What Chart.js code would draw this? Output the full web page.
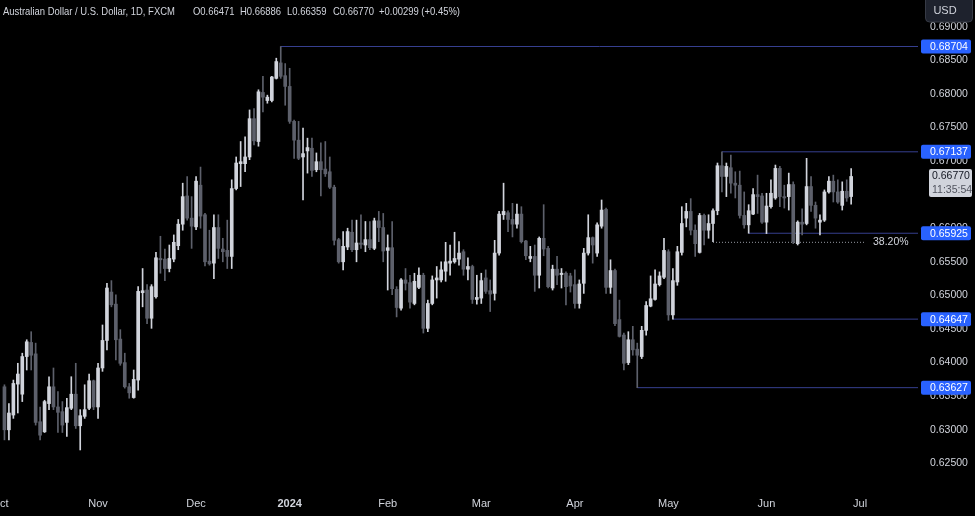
<!DOCTYPE html>
<html>
<head>
<meta charset="utf-8">
<script src="https://cdn.jsdelivr.net/npm/chart.js@4.4.0/dist/chart.umd.min.js"></script>
<style>
  html, body { margin: 0; padding: 0; background: #000; }
  canvas { display: block; }
</style>
</head>
<body>
<canvas id="chart" width="975" height="516"></canvas>
<script>
// month ticks on the time axis and how many daily bars each month spans
const monthNames = ["Oct", "Nov", "Dec", "2024", "Feb", "Mar", "Apr", "May", "Jun", "Jul"];
const monthBars = [22, 22, 21, 22, 21, 21, 21, 22, 21, 14];
const firstBar = 1; // first candle sits on the 2nd slot, the 1st one is off screen

// AUD/USD daily OHLC
const opens = [
  0.6364, 0.6300, 0.6322, 0.6368, 0.6353, 0.6409, 0.6430, 0.6413, 0.6312, 0.6297,
  0.6339, 0.6364, 0.6334, 0.6327, 0.6311, 0.6332, 0.6353, 0.6306, 0.6320, 0.6332,
  0.6373, 0.6334, 0.6392, 0.6433, 0.6505, 0.6487, 0.6435, 0.6400, 0.6364, 0.6348,
  0.6374, 0.6504, 0.6508, 0.6466, 0.6498, 0.6555, 0.6554, 0.6540, 0.6554, 0.6574,
  0.6606, 0.6648, 0.6615, 0.6602, 0.6664, 0.6620, 0.6551, 0.6548, 0.6601, 0.6569,
  0.6567, 0.6558, 0.6659, 0.6696, 0.6696, 0.6706, 0.6763, 0.6729, 0.6802, 0.6790,
  0.6790, 0.6823, 0.6846, 0.6827, 0.6811, 0.6759, 0.6731, 0.6706, 0.6715, 0.6719,
  0.6687, 0.6699, 0.6688, 0.6684, 0.6661, 0.6583, 0.6550, 0.6572, 0.6594, 0.6568,
  0.6578, 0.6575, 0.6583, 0.6570, 0.6611, 0.6601, 0.6567, 0.6571, 0.6509, 0.6481,
  0.6523, 0.6519, 0.6488, 0.6512, 0.6530, 0.6451, 0.6488, 0.6523, 0.6523, 0.6536,
  0.6548, 0.6550, 0.6554, 0.6565, 0.6539, 0.6543, 0.6494, 0.6496, 0.6526, 0.6507,
  0.6503, 0.6563, 0.6620, 0.6623, 0.6613, 0.6606, 0.6621, 0.6581, 0.6555, 0.6558,
  0.6530, 0.6585, 0.6570, 0.6511, 0.6539, 0.6531, 0.6533, 0.6529, 0.6516, 0.6488,
  0.6518, 0.6563, 0.6586, 0.6563, 0.6603, 0.6628, 0.6512, 0.6537, 0.6464, 0.6441,
  0.6400, 0.6434, 0.6420, 0.6409, 0.6448, 0.6484, 0.6494, 0.6516, 0.6527, 0.6565,
  0.6471, 0.6520, 0.6564, 0.6615, 0.6625, 0.6597, 0.6564, 0.6619, 0.6597, 0.6607,
  0.6626, 0.6693, 0.6677, 0.6690, 0.6667, 0.6664, 0.6619, 0.6605, 0.6621, 0.6650,
  0.6648, 0.6609, 0.6632, 0.6645, 0.6689, 0.6647, 0.6647, 0.6665, 0.6577, 0.6609,
  0.6607, 0.6662, 0.6634, 0.6609, 0.6612, 0.6654, 0.6670, 0.6654, 0.6634, 0.6655,
  0.66471
];
const highs = [
  0.6367, 0.6339, 0.6374, 0.6399, 0.6414, 0.6434, 0.6446, 0.6429, 0.6334, 0.6344,
  0.6379, 0.6392, 0.6357, 0.6342, 0.6347, 0.6379, 0.6399, 0.6330, 0.6367, 0.6383,
  0.6374, 0.6399, 0.6456, 0.6518, 0.6522, 0.6501, 0.6449, 0.6414, 0.6369, 0.6389,
  0.6513, 0.6540, 0.6516, 0.6516, 0.6564, 0.6588, 0.6569, 0.6575, 0.6590, 0.6613,
  0.6667, 0.6677, 0.6647, 0.6677, 0.6691, 0.6622, 0.6597, 0.6620, 0.6620, 0.6585,
  0.6612, 0.6672, 0.6706, 0.6729, 0.6736, 0.6776, 0.6778, 0.6806, 0.6826, 0.6798,
  0.6826, 0.6853, 0.68704, 0.6845, 0.6838, 0.6761, 0.6759, 0.6749, 0.6734, 0.6734,
  0.6712, 0.6727, 0.6729, 0.6706, 0.6664, 0.6585, 0.6595, 0.6600, 0.6612, 0.6612,
  0.6620, 0.6610, 0.6610, 0.6615, 0.6625, 0.6622, 0.6590, 0.6610, 0.6513, 0.6525,
  0.6540, 0.6530, 0.6533, 0.6541, 0.6533, 0.6493, 0.6529, 0.6543, 0.6550, 0.6579,
  0.6575, 0.6594, 0.6580, 0.6568, 0.6556, 0.6545, 0.6530, 0.6533, 0.6538, 0.6523,
  0.6582, 0.6625, 0.6667, 0.6626, 0.6637, 0.6636, 0.6632, 0.6582, 0.6573, 0.6575,
  0.6587, 0.6635, 0.6573, 0.6545, 0.6558, 0.6540, 0.6535, 0.6533, 0.6538, 0.6523,
  0.6570, 0.6620, 0.6587, 0.6608, 0.6642, 0.6630, 0.6553, 0.6539, 0.6493, 0.6444,
  0.6446, 0.6454, 0.6429, 0.6454, 0.6491, 0.6529, 0.6538, 0.6535, 0.6585, 0.6568,
  0.6540, 0.6573, 0.6632, 0.6637, 0.6644, 0.6605, 0.6622, 0.6621, 0.6620, 0.6629,
  0.6697, 0.67137, 0.6697, 0.6709, 0.6684, 0.6685, 0.6654, 0.6635, 0.6659, 0.6679,
  0.6652, 0.6652, 0.6672, 0.6694, 0.6692, 0.6664, 0.6682, 0.6669, 0.6611, 0.6629,
  0.6704, 0.6677, 0.6639, 0.6620, 0.6657, 0.6677, 0.6679, 0.6672, 0.6669, 0.6672,
  0.66886
];
const lows = [
  0.6285, 0.6285, 0.6317, 0.6325, 0.6342, 0.6389, 0.6389, 0.6307, 0.6285, 0.6296,
  0.6330, 0.6330, 0.6296, 0.6296, 0.6290, 0.6330, 0.6302, 0.6270, 0.6317, 0.6330,
  0.6330, 0.6317, 0.6387, 0.6419, 0.6483, 0.6404, 0.6396, 0.6362, 0.6347, 0.6347,
  0.6359, 0.6483, 0.6458, 0.6451, 0.6496, 0.6533, 0.6522, 0.6535, 0.6550, 0.6568,
  0.6597, 0.6612, 0.6570, 0.6598, 0.6600, 0.6544, 0.6545, 0.6525, 0.6555, 0.6550,
  0.6540, 0.6540, 0.6657, 0.6662, 0.6684, 0.6702, 0.6724, 0.6722, 0.6773, 0.6786,
  0.6788, 0.6822, 0.6823, 0.6783, 0.6756, 0.6704, 0.6702, 0.6642, 0.6682, 0.6677,
  0.6684, 0.6648, 0.6677, 0.6659, 0.6575, 0.6548, 0.6538, 0.6568, 0.6565, 0.6550,
  0.6570, 0.6565, 0.6568, 0.6568, 0.6580, 0.6550, 0.6508, 0.6501, 0.6468, 0.6478,
  0.6508, 0.6481, 0.6486, 0.6510, 0.6444, 0.6446, 0.6486, 0.6496, 0.6520, 0.6521,
  0.6530, 0.6548, 0.6545, 0.6530, 0.6523, 0.6488, 0.6487, 0.6488, 0.6503, 0.6476,
  0.6493, 0.6560, 0.6613, 0.6595, 0.6587, 0.6600, 0.6578, 0.6553, 0.6550, 0.6506,
  0.6511, 0.6559, 0.6511, 0.6508, 0.6516, 0.6511, 0.6486, 0.6505, 0.6481, 0.6481,
  0.6503, 0.6560, 0.6548, 0.6558, 0.6600, 0.6503, 0.6503, 0.6455, 0.6438, 0.6389,
  0.6397, 0.6411, 0.63627, 0.6406, 0.6441, 0.6483, 0.6493, 0.6514, 0.6525, 0.6463,
  0.64647, 0.6515, 0.6560, 0.6602, 0.6590, 0.6558, 0.6563, 0.6575, 0.6585, 0.6580,
  0.6620, 0.6654, 0.6647, 0.6652, 0.6645, 0.6615, 0.6600, 0.65925, 0.6620, 0.6622,
  0.6607, 0.6592, 0.6630, 0.6643, 0.6632, 0.6630, 0.6627, 0.6577, 0.6575, 0.6590,
  0.6605, 0.6625, 0.6600, 0.6590, 0.6610, 0.6652, 0.6639, 0.6637, 0.6627, 0.6640,
  0.66359
];
const closes = [
  0.6300, 0.6325, 0.6369, 0.6383, 0.6409, 0.6431, 0.6411, 0.6311, 0.6292, 0.6342,
  0.6364, 0.6334, 0.6326, 0.6307, 0.6333, 0.6353, 0.6306, 0.6321, 0.6330, 0.6373,
  0.6334, 0.6392, 0.6433, 0.6511, 0.6486, 0.6434, 0.6399, 0.6364, 0.6355, 0.6375,
  0.6506, 0.6507, 0.6466, 0.6513, 0.6556, 0.6553, 0.6540, 0.6555, 0.6579, 0.6606,
  0.6647, 0.6615, 0.6603, 0.6670, 0.6618, 0.6550, 0.6547, 0.6601, 0.6570, 0.6565,
  0.6558, 0.6659, 0.6697, 0.6699, 0.6706, 0.6763, 0.6730, 0.6803, 0.6795, 0.6795,
  0.6825, 0.6848, 0.6826, 0.6811, 0.6759, 0.6731, 0.6704, 0.6711, 0.6720, 0.6686,
  0.6699, 0.6687, 0.6681, 0.6661, 0.6582, 0.6550, 0.6573, 0.6595, 0.6568, 0.6578,
  0.6576, 0.6583, 0.6571, 0.6611, 0.6601, 0.6566, 0.6571, 0.6510, 0.6482, 0.6523,
  0.6518, 0.6490, 0.6521, 0.6530, 0.6451, 0.6488, 0.6523, 0.6526, 0.6538, 0.6550,
  0.6551, 0.6555, 0.6563, 0.6539, 0.6543, 0.6494, 0.6497, 0.6522, 0.6506, 0.6502,
  0.6563, 0.6621, 0.6625, 0.6613, 0.6606, 0.6621, 0.6580, 0.6559, 0.6558, 0.6530,
  0.6585, 0.6569, 0.6513, 0.6539, 0.6530, 0.6533, 0.6513, 0.6514, 0.6488, 0.6517,
  0.6563, 0.6586, 0.6575, 0.6605, 0.6627, 0.6512, 0.6537, 0.6458, 0.6439, 0.6399,
  0.6434, 0.6419, 0.6411, 0.6448, 0.6485, 0.6495, 0.6517, 0.6529, 0.6567, 0.6471,
  0.6522, 0.6565, 0.6607, 0.6625, 0.6597, 0.6577, 0.6619, 0.6597, 0.6607, 0.6626,
  0.6693, 0.6677, 0.6692, 0.6667, 0.6664, 0.6619, 0.6605, 0.6626, 0.6650, 0.6647,
  0.6609, 0.6633, 0.6652, 0.6689, 0.6647, 0.6645, 0.6665, 0.6580, 0.6609, 0.6606,
  0.6662, 0.6634, 0.6615, 0.6612, 0.6654, 0.6670, 0.6654, 0.6639, 0.6655, 0.6645,
  0.66770
];

// drawn horizontal levels and where they start (bar slot)
const levels = [0.68704, 0.67137, 0.65925, 0.64647, 0.63627];
const levelStarts = [63, 162, 168, 151, 143];
const fibLevel = 0.6579;
const fibStart = 160;
const fibEnd = 194;
const fibText = "38.20%";
const lastPrice = 0.6677;
const countdown = "11:35:54";
const header = [
  [3, "Australian Dollar / U.S. Dollar, 1D, FXCM"],
  [193, "O0.66471"],
  [240, "H0.66886"],
  [287, "L0.66359"],
  [333, "C0.66770"],
  [379, "+0.00299 (+0.45%)"]
];

const FONT = "'Liberation Sans', Arial, sans-serif";
const bull = "#d1d4dc";
const bear = "#5d606b";
const levelColor = "#363f8f";

const labels = [];
const monthStart = {};
monthNames.forEach((m, k) => {
  for (let d = 0; d < monthBars[k]; d++) {
    if (d === 0) monthStart[labels.length] = m;
    labels.push(m + " " + (d + 1));
  }
});

const candle = (i) => {
  const k = i - firstBar;
  return k >= 0 && k < opens.length ? k : -1;
};
const wickData = labels.map((_, i) => {
  const k = candle(i);
  return k < 0 ? null : [lows[k], highs[k]];
});
const bodyData = labels.map((_, i) => {
  const k = candle(i);
  return k < 0 ? null : [opens[k], closes[k]];
});
const candleColor = (ctx) => {
  const k = candle(ctx.dataIndex);
  return k >= 0 && closes[k] < opens[k] ? bear : bull;
};

const lastLabel = labels[labels.length - 1];
const levelSets = levels.map((v, n) => ({
  type: "line",
  data: [{ x: labels[levelStarts[n]], y: v }, { x: lastLabel, y: v }],
  borderColor: levelColor,
  borderWidth: 1,
  pointRadius: 0,
  order: 3
}));

// keep the plot flush with the canvas edges
const noPad = (s) => {
  s.paddingLeft = 0;
  s.paddingRight = 0;
  s.paddingTop = 0;
  s.paddingBottom = 0;
};

const overlay = {
  id: "overlay",
  afterDraw(chart) {
    const { ctx } = chart;
    const y = chart.scales.y;
    ctx.save();
    ctx.textBaseline = "middle";

    // header line (narrow face, like the original)
    ctx.font = "11px " + FONT;
    ctx.fillStyle = "#d1d4dc";
    ctx.textAlign = "left";
    header.forEach(([hx, t]) => {
      ctx.save();
      ctx.translate(hx, 12);
      ctx.scale(0.86, 1);
      ctx.fillText(t, 0, 0);
      ctx.restore();
    });

    // fib label
    ctx.font = "10.5px " + FONT;
    ctx.fillText(fibText, 873, y.getPixelForValue(fibLevel));

    // price labels for the levels
    levels.forEach((v) => {
      const py = y.getPixelForValue(v);
      ctx.fillStyle = "#2962ff";
      ctx.beginPath();
      ctx.roundRect(921, py - 7, 50, 14, 2);
      ctx.fill();
      ctx.fillStyle = "#ffffff";
      ctx.fillText(v.toFixed(5), 930, py + 0.5);
    });

    // last price + countdown
    const ly = y.getPixelForValue(lastPrice);
    ctx.fillStyle = "#d1d4dc";
    ctx.beginPath();
    ctx.roundRect(929, ly - 7.5, 43, 28, 2);
    ctx.fill();
    ctx.fillStyle = "#131722";
    ctx.fillText(lastPrice.toFixed(5), 932, ly);
    ctx.fillStyle = "#50535e";
    ctx.fillText(countdown, 932, ly + 14);

    // currency button
    ctx.fillStyle = "#1e222d";
    ctx.strokeStyle = "#363a45";
    ctx.beginPath();
    ctx.roundRect(925.5, -4, 47, 26, 4);
    ctx.fill();
    ctx.stroke();
    ctx.fillStyle = "#d1d4dc";
    ctx.textAlign = "center";
    ctx.font = "11px " + FONT;
    ctx.fillText("USD", 945, 11);
    ctx.restore();
  }
};

new Chart(document.getElementById("chart"), {
  type: "bar",
  data: {
    labels: labels,
    datasets: [
      {
        data: wickData,
        backgroundColor: candleColor,
        barThickness: 1,
        grouped: false,
        order: 2
      },
      {
        data: bodyData,
        backgroundColor: candleColor,
        barThickness: 3,
        minBarLength: 1,
        grouped: false,
        order: 1
      },
      ...levelSets,
      {
        type: "line",
        data: [{ x: labels[fibStart], y: fibLevel }, { x: labels[fibEnd], y: fibLevel }],
        borderColor: "#9598a1",
        borderWidth: 1,
        borderDash: [1, 2],
        pointRadius: 0,
        order: 3
      }
    ]
  },
  options: {
    responsive: false,
    animation: false,
    events: [],
    layout: { padding: 0 },
    plugins: { legend: { display: false }, tooltip: { enabled: false } },
    scales: {
      x: {
        type: "category",
        offset: false,
        grid: { display: false, drawTicks: false },
        border: { display: false },
        ticks: {
          autoSkip: false,
          maxRotation: 0,
          minRotation: 0,
          padding: 9,
          color: "#d1d4dc",
          font: (c) => ({ family: FONT, size: 11, weight: monthStart[c.index] === "2024" ? "bold" : "normal" }),
          callback: (v, i) => monthStart[i] || ""
        },
        afterFit: (s) => { s.height = 28; noPad(s); }
      },
      y: {
        position: "right",
        min: 0.62134,
        max: 0.69396,
        grid: { display: false, drawTicks: false },
        border: { display: false },
        ticks: {
          stepSize: 0.005,
          maxTicksLimit: 20,
          includeBounds: false,
          padding: 12,
          color: "#d1d4dc",
          font: { family: FONT, size: 10.5 },
          callback: (v) => v.toFixed(5)
        },
        afterFit: (s) => { s.width = 57; noPad(s); }
      }
    }
  },
  plugins: [overlay]
});
</script>
</body>
</html>
